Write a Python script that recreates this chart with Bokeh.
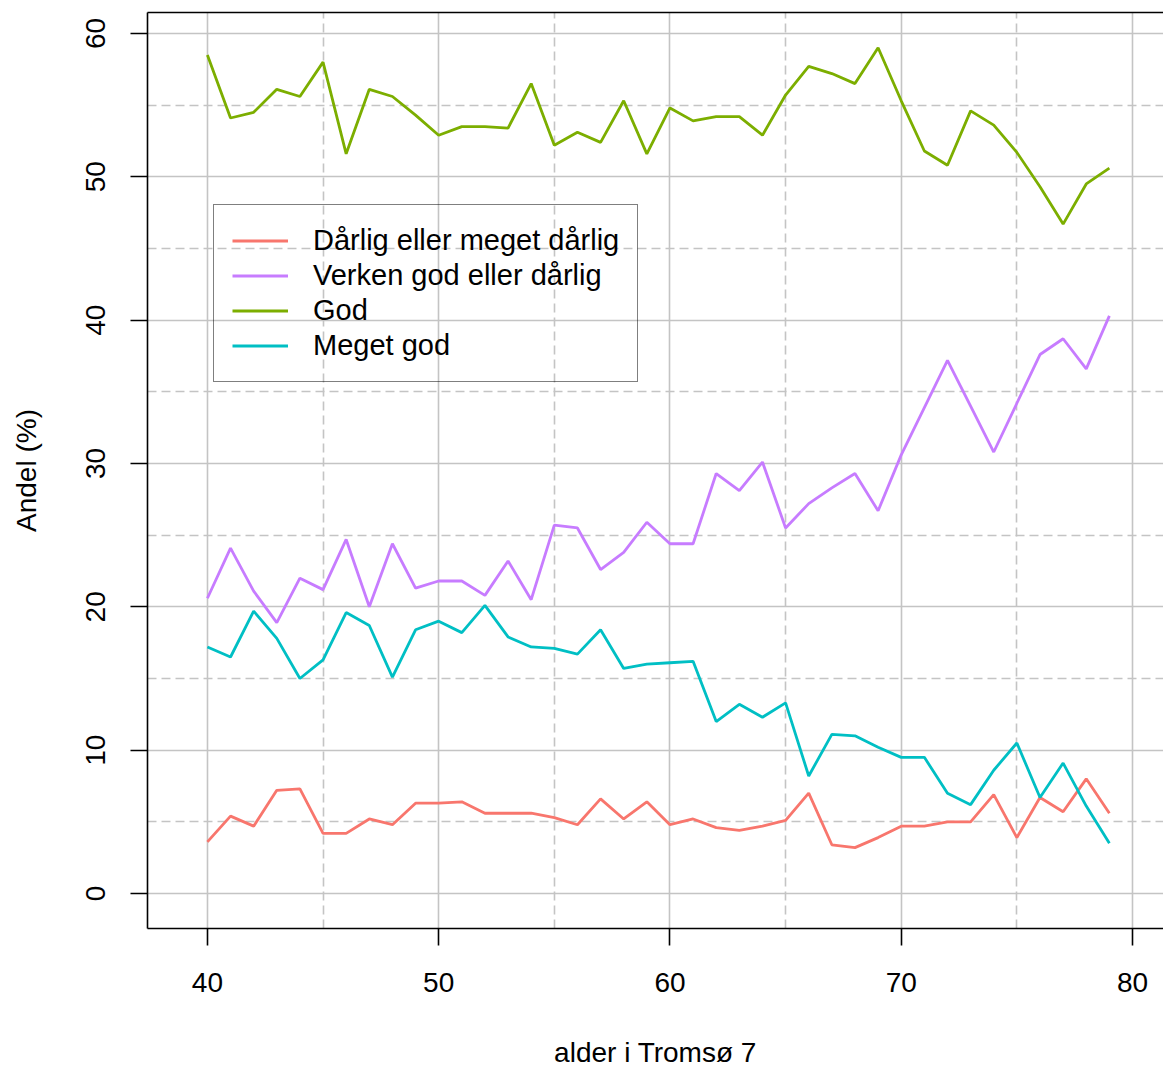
from bokeh.plotting import figure
from bokeh.models import Range1d, FixedTicker, LinearAxis, Legend, LegendItem, ColumnDataSource
from bokeh.embed import file_html
from bokeh.resources import INLINE

age = list(range(40, 80))
darlig = [3.6, 5.4, 4.7, 7.2, 7.3, 4.2, 4.2, 5.2, 4.8, 6.3, 6.3, 6.4, 5.6, 5.6, 5.6, 5.3, 4.8, 6.6, 5.2, 6.4,
          4.8, 5.2, 4.6, 4.4, 4.7, 5.1, 7.0, 3.4, 3.2, 3.9, 4.7, 4.7, 5.0, 5.0, 6.9, 3.9, 6.7, 5.7, 8.0, 5.6]
verken = [20.6, 24.1, 21.1, 18.9, 22.0, 21.2, 24.7, 20.0, 24.4, 21.3, 21.8, 21.8, 20.8, 23.2, 20.5, 25.7, 25.5, 22.6, 23.8, 25.9,
          24.4, 24.4, 29.3, 28.1, 30.1, 25.5, 27.2, 28.3, 29.3, 26.7, 30.6, 33.9, 37.2, 34.0, 30.8, 34.2, 37.6, 38.7, 36.6, 40.3]
god = [58.5, 54.1, 54.5, 56.1, 55.6, 58.0, 51.6, 56.1, 55.6, 54.3, 52.9, 53.5, 53.5, 53.4, 56.5, 52.2, 53.1, 52.4, 55.3, 51.6,
       54.8, 53.9, 54.2, 54.2, 52.9, 55.7, 57.7, 57.2, 56.5, 59.0, 55.3, 51.8, 50.8, 54.6, 53.6, 51.7, 49.3, 46.7, 49.5, 50.6]
meget = [17.2, 16.5, 19.7, 17.8, 15.0, 16.3, 19.6, 18.7, 15.1, 18.4, 19.0, 18.2, 20.1, 17.9, 17.2, 17.1, 16.7, 18.4, 15.7, 16.0,
         16.1, 16.2, 12.0, 13.2, 12.3, 13.3, 8.2, 11.1, 11.0, 10.2, 9.5, 9.5, 7.0, 6.2, 8.6, 10.5, 6.7, 9.1, 6.1, 3.5]

labels = ["Dårlig eller meget dårlig", "Verken god eller dårlig", "God", "Meget god"]
colors = ["#F8766D", "#C77CFF", "#7CAE00", "#00BFC4"]
x_ticks = [40, 50, 60, 70, 80]
x_minor = [45, 55, 65, 75]
y_ticks = [0, 10, 20, 30, 40, 50, 60]
y_minor = [5, 15, 25, 35, 45, 55]

FONT = "Liberation Sans"

p = figure(width=1163, height=1070,
           x_range=Range1d(37.41, 81.34), y_range=Range1d(-2.44, 61.46),
           output_backend="svg", toolbar_location=None,
           min_border_left=147, min_border_right=0, min_border_top=12, min_border_bottom=141,
           x_axis_label="alder i Tromsø 7", y_axis_label="Andel (%)")
p.outline_line_color = None
p.background_fill_color = "white"
p.border_fill_color = "white"

xt = FixedTicker(ticks=x_ticks, minor_ticks=x_minor)
yt = FixedTicker(ticks=y_ticks, minor_ticks=y_minor)
p.below[0].ticker = xt
p.left[0].ticker = yt
p.xgrid.ticker = xt
p.ygrid.ticker = yt

for g in (p.xgrid[0], p.ygrid[0]):
    g.grid_line_color = "#c4c4c4"
    g.grid_line_width = 1.6
    g.minor_grid_line_color = "#c4c4c4"
    g.minor_grid_line_width = 1.6
    g.minor_grid_line_dash = "9 5"

for ax in (p.below[0], p.left[0]):
    ax.axis_line_color = "black"
    ax.axis_line_width = 1.6
    ax.major_tick_line_color = "black"
    ax.major_tick_line_width = 1.6
    ax.major_tick_out = 17
    ax.major_tick_in = 0
    ax.minor_tick_line_color = None
    ax.major_label_text_font = FONT
    ax.major_label_text_font_size = "28px"
    ax.major_label_text_color = "black"
    ax.axis_label_text_font = FONT
    ax.axis_label_text_font_size = "28px"
    ax.axis_label_text_font_style = "normal"
    ax.axis_label_text_color = "black"

p.below[0].major_label_standoff = 27
p.below[0].axis_label_standoff = 42
p.left[0].major_label_orientation = "vertical"
p.left[0].major_label_standoff = 25
p.left[0].axis_label_standoff = 42

top = LinearAxis(ticker=FixedTicker(ticks=[]), major_label_text_font_size="0px",
                 major_tick_out=0, major_tick_in=0, minor_tick_out=0, minor_tick_in=0,
                 major_label_standoff=0, axis_line_color="black", axis_line_width=1.6)
p.add_layout(top, "above")

src = ColumnDataSource(dict(age=age, darlig=darlig, verken=verken, god=god, meget=meget))
items = []
for col, lab, c in zip(["darlig", "verken", "god", "meget"], labels, colors):
    r = p.line("age", col, source=src, line_color=c, line_width=2.8)
    items.append(LegendItem(label=lab, renderers=[r]))

legend = Legend(items=items, location=(66, 546), padding=18, margin=0, spacing=0,
                glyph_width=56, glyph_height=35, label_height=35, label_standoff=25,
                label_text_font=FONT, label_text_font_size="29px", label_text_color="black",
                border_line_color="black", border_line_width=1.6, background_fill_alpha=0)
p.add_layout(legend)

open("out.html", "w").write(file_html(p, INLINE))
